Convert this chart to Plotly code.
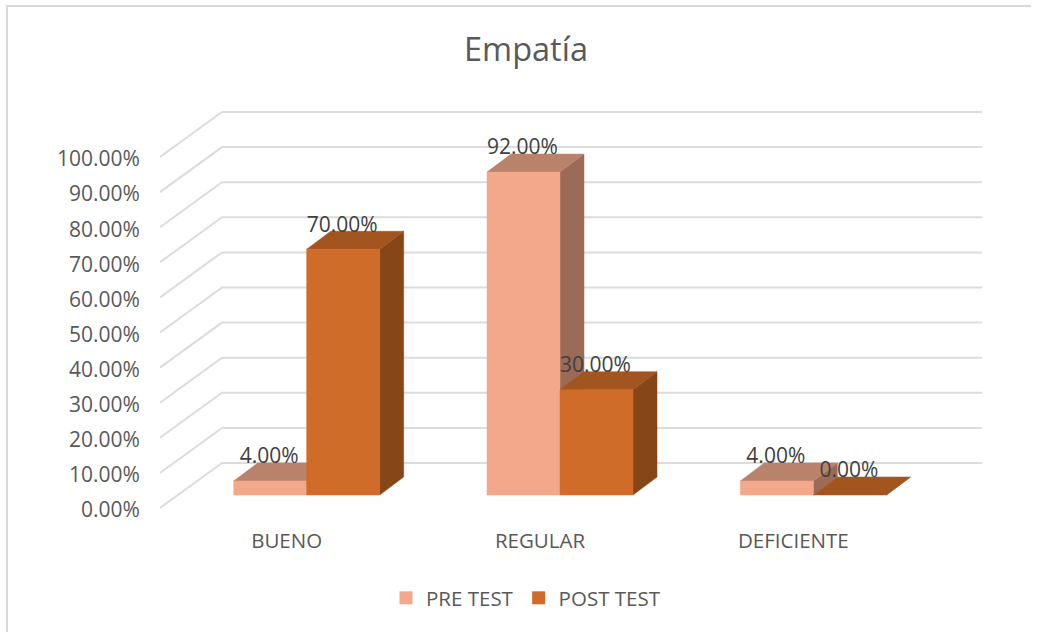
import plotly.graph_objects as go

categories = ["BUENO", "REGULAR", "DEFICIENTE"]
pre_test = [4, 92, 4]
post_test = [70, 30, 0]
y_ticks = [0, 10, 20, 30, 40, 50, 60, 70, 80, 90, 100]
y_labels = [f"{v:.2f}%" for v in y_ticks]

# figure geometry
W, H = 1038, 632
L, R, T, B = 160, 985, 95, 522
PX_PER_CAT = 253.33
PX_PER_PCT = 3.51
Y0_PX = 510

x_lo = -0.5
x_hi = x_lo + (R - L) / PX_PER_CAT
y_lo = -(B - Y0_PX) / PX_PER_PCT
y_hi = (Y0_PX - T) / PX_PER_PCT


def dx(px):
    return px / PX_PER_CAT


def dy(px):
    return px / PX_PER_PCT


def paper_x(px):
    return (px - L) / (R - L)


def paper_y(px):
    return (B - px) / (B - T)


# oblique projection offsets
WALL_START = dy(2)
WALL_DX, WALL_DY = dx(62), dy(47)
BAR_SHIFT_X, BAR_SHIFT_Y = dx(20), dy(15)
BAR_DX, BAR_DY = dx(24), dy(18)
BAR_W = dx(73)

PRE = dict(front="#F3A88B", top="#B9826B", side="#9B6B57")
POST = dict(front="#D06C29", top="#A3551F", side="#864618")
GRID = "#DCDCDC"
TEXT = "#595959"
LABEL = "#404040"
FONT = "Open Sans"

fig = go.Figure()


def poly(xs, ys, color):
    fig.add_trace(go.Scatter(
        x=xs + xs[:1], y=ys + ys[:1], mode="lines", fill="toself",
        fillcolor=color, line=dict(color=color, width=0.5),
        showlegend=False, hoverinfo="skip"))


# gridlines: side wall + back wall
for v in y_ticks:
    fig.add_trace(go.Scatter(
        x=[x_lo, x_lo + WALL_DX, x_lo + 3 + WALL_DX],
        y=[v + WALL_START, v + WALL_DY, v + WALL_DY],
        mode="lines", line=dict(color=GRID, width=2),
        showlegend=False, hoverinfo="skip"))


def bar(left, value, col):
    x0 = left + BAR_SHIFT_X
    x1 = x0 + BAR_W
    y0 = BAR_SHIFT_Y
    y1 = y0 + value
    poly([x1, x1 + BAR_DX, x1 + BAR_DX, x1], [y0, y0 + BAR_DY, y1 + BAR_DY, y1], col["side"])
    poly([x0, x1, x1 + BAR_DX, x0 + BAR_DX], [y1, y1, y1 + BAR_DY, y1 + BAR_DY], col["top"])
    if value > 0:
        poly([x0, x1, x1, x0], [y0, y0, y1, y1], col["front"])
    return x0 + BAR_W / 2, y1


lx, ly, lt = [], [], []
for i, _ in enumerate(categories):
    for j, (vals, col) in enumerate(((pre_test, PRE), (post_test, POST))):
        left = i - BAR_W + j * BAR_W
        cx, top = bar(left, vals[i], col)
        lx.append(cx - dx(1))
        ly.append(top + dy(23))
        lt.append(f"{vals[i]:.2f}%")

fig.add_trace(go.Scatter(
    x=lx, y=ly, text=lt, mode="text", textposition="middle center",
    textfont=dict(family=FONT, size=21, color=LABEL),
    showlegend=False, hoverinfo="skip", cliponaxis=False))

# legend entries
for name, col in (("PRE TEST", PRE), ("POST TEST", POST)):
    fig.add_trace(go.Scatter(
        x=[None], y=[None], mode="markers", name=name,
        marker=dict(symbol="square", size=13, color=col["front"])))

fig.update_layout(
    width=W, height=H, autosize=False,
    margin=dict(l=L, r=W - R, t=T, b=H - B),
    paper_bgcolor="white", plot_bgcolor="white",
    font=dict(family=FONT, color=TEXT, size=20.5),
    title=dict(text="Empatía", x=526 / W, xanchor="center", y=1 - 50 / H, yanchor="middle",
               font=dict(family=FONT, size=32.5, color=TEXT)),
    xaxis=dict(range=[x_lo, x_hi], tickmode="array", tickvals=[0, 1, 2], ticktext=categories,
               showgrid=False, zeroline=False, showline=False, ticks="", ticklabelstandoff=4,
               tickfont=dict(family=FONT, size=20.5, color=TEXT)),
    yaxis=dict(range=[y_lo, y_hi], tickmode="array", tickvals=y_ticks, ticktext=y_labels,
               showgrid=False, zeroline=False, showline=False, ticks="outside", ticklen=15,
               tickcolor="rgba(0,0,0,0)", tickfont=dict(family=FONT, size=21, color=TEXT)),
    legend=dict(orientation="h", x=paper_x(526), y=paper_y(598),
                xanchor="center", yanchor="middle", font=dict(family=FONT, size=20.5, color=TEXT)),
    shapes=[dict(type="path", xref="paper", yref="paper",
                 path=f"M {paper_x(7)} {paper_y(640)} L {paper_x(7)} {paper_y(6)} L {paper_x(1031)} {paper_y(6)}",
                 line=dict(color="#D9D9D9", width=2), layer="below")],
)

fig.write_html("out.html", config={"displayModeBar": False},
               post_script="document.body.style.margin='0';")
